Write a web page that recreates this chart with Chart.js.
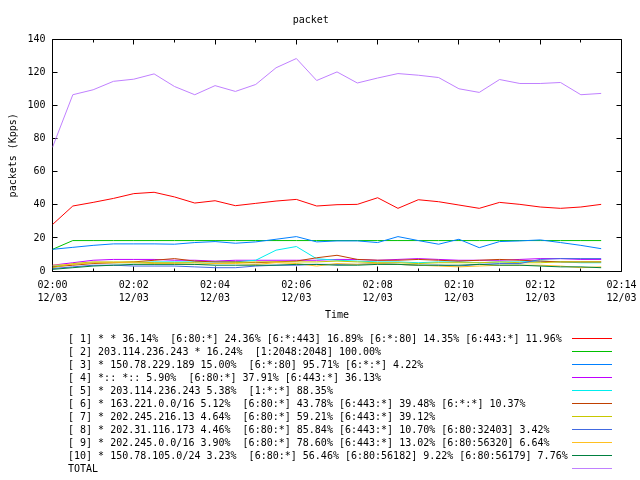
<!DOCTYPE html>
<html>
<head>
<meta charset="utf-8">
<script src="https://cdn.jsdelivr.net/npm/chart.js@4/dist/chart.umd.min.js"></script>
<style>
  html, body { margin: 0; padding: 0; background: #fff; }
  #wrap { position: relative; width: 640px; height: 480px; overflow: hidden; }
  #c { position: absolute; left: 0; top: 0; }
  #legend { position: absolute; left: 0; top: 0; width: 640px; height: 480px; pointer-events: none;
            font-family: 'DejaVu Sans Mono', 'Liberation Mono', monospace; font-size: 10px; color: #000; }
  .lg-text { position: absolute; left: 68px; white-space: pre; line-height: 13px; height: 13px; }
  .lg-line { position: absolute; left: 572px; width: 40px; height: 1px; }
</style>
</head>
<body>
<div id="wrap">
  <canvas id="c" width="640" height="480"></canvas>
  <div id="legend"></div>
</div>
<script>
// ---- data ----
const timeMinutes = [0, 0.5, 1, 1.5, 2, 2.5, 3, 3.5, 4, 4.5, 5, 5.5, 6, 6.5, 7, 7.5, 8, 8.5, 9, 9.5, 10, 10.5, 11, 11.5, 12, 12.5, 13, 13.5];
const tickTimes = ['02:00', '02:02', '02:04', '02:06', '02:08', '02:10', '02:12', '02:14'];
const tickDate = '12/03';

const series1 = [28.1, 39.3, 41.5, 43.9, 46.8, 47.6, 44.8, 41.1, 42.5, 39.5, 40.9, 42.3, 43.3, 39.3, 40.1, 40.3, 44.3, 37.9, 43.1, 41.9, 39.9, 37.9, 41.5, 40.3, 38.7, 37.9, 38.7, 40.3];
const series2 = [13.1, 18.4, 18.4, 18.4, 18.4, 18.4, 18.4, 18.4, 18.4, 18.4, 18.4, 18.4, 18.4, 18.4, 18.4, 18.4, 18.4, 18.4, 18.4, 18.4, 18.4, 18.4, 18.4, 18.4, 18.4, 18.4, 18.4, 18.4];
const series3 = [13.1, 14.3, 15.5, 16.4, 16.4, 16.4, 16.2, 17.2, 17.8, 16.8, 17.6, 19.2, 20.8, 17.6, 18.2, 18.2, 17.2, 20.8, 18.4, 16.2, 19.2, 14.1, 17.8, 18.2, 18.8, 17.2, 15.5, 13.5];
const series4 = [3.5, 5, 6.5, 7, 7, 7, 6.5, 6.5, 6, 6.5, 6.5, 6.5, 6.5, 6.5, 7, 7, 6.5, 7, 7.5, 7, 6.5, 6.5, 6.5, 7, 7.5, 7.5, 7, 7];
const series5 = [3, 4, 5, 5, 5, 5.5, 5.5, 5.5, 5.5, 5.5, 6.5, 12.6, 14.8, 7.4, 6.5, 6, 5.5, 5.5, 5, 5.5, 5.5, 5, 5.5, 5.5, 6, 5.5, 5, 5];
const series6 = [2.5, 3.5, 4.5, 5, 5.5, 6.5, 7.5, 6, 5.5, 5.5, 5, 5.5, 6, 8, 9.5, 7, 6.5, 6.5, 7, 6.5, 6, 6.5, 7, 6.5, 6, 5.5, 5.5, 5.5];
const series7 = [2, 4.5, 5.5, 5.5, 5.5, 5, 5, 5, 4.5, 5, 5.5, 5.5, 5.5, 5.5, 6, 5.5, 5, 5, 4.5, 5, 5, 5, 5.5, 5, 5, 5.5, 5.5, 5.5];
const series8 = [1.5, 2.5, 3.5, 3.5, 3, 3, 3, 2.5, 2, 2, 3, 3.5, 3.5, 4, 4, 4, 4.5, 4, 3.5, 3.5, 3, 4, 4.5, 4.5, 7, 7.5, 7.5, 7.5];
const series9 = [3.5, 4, 5, 5, 5, 4.5, 4.5, 4, 4.5, 4.5, 4, 5, 4.5, 3, 4.5, 4, 4.5, 4, 3.5, 3, 2.5, 3, 3.5, 3.5, 3.5, 3, 2, 2.5];
const series10 = [1, 2, 3, 3.5, 4, 4, 4, 4, 3.5, 3.5, 3.5, 3.5, 4, 4, 3.5, 3.5, 4, 4, 3.5, 3.5, 3.5, 4, 3.5, 3.5, 3, 2.5, 2.5, 2];
const seriesTotal = [74.8, 106.6, 109.6, 114.7, 116, 119.2, 111.6, 106.6, 112.1, 108.6, 112.8, 122.9, 128.5, 115.2, 120.4, 113.7, 116.7, 119.4, 118.4, 117, 110.2, 108, 115.8, 113.4, 113.4, 114, 106.6, 107.4];

const seriesLabels = [
  '[ 1] * * 36.14%  [6:80:*] 24.36% [6:*:443] 16.89% [6:*:80] 14.35% [6:443:*] 11.96%',
  '[ 2] 203.114.236.243 * 16.24%  [1:2048:2048] 100.00%',
  '[ 3] * 150.78.229.189 15.00%  [6:*:80] 95.71% [6:*:*] 4.22%',
  '[ 4] *:: *:: 5.90%  [6:80:*] 37.91% [6:443:*] 36.13%',
  '[ 5] * 203.114.236.243 5.38%  [1:*:*] 88.35%',
  '[ 6] * 163.221.0.0/16 5.12%  [6:80:*] 43.78% [6:443:*] 39.48% [6:*:*] 10.37%',
  '[ 7] * 202.245.216.13 4.64%  [6:80:*] 59.21% [6:443:*] 39.12%',
  '[ 8] * 202.31.116.173 4.46%  [6:80:*] 85.84% [6:443:*] 10.70% [6:80:32403] 3.42%',
  '[ 9] * 202.245.0.0/16 3.90%  [6:80:*] 78.60% [6:443:*] 13.02% [6:80:56320] 6.64%',
  '[10] * 150.78.105.0/24 3.23%  [6:80:*] 56.46% [6:80:56182] 9.22% [6:80:56179] 7.76%',
  'TOTAL'
];

// ---- styles ----
const COLORS = ['#ff0000', '#00c000', '#0080ff', '#c000ff', '#00eeee', '#c04000', '#c8c800', '#4169e1', '#ffc020', '#008040', '#c080ff'];
const FONT = "'DejaVu Sans Mono', 'Liberation Mono', monospace";

const allSeries = [series1, series2, series3, series4, series5, series6, series7, series8, series9, series10, seriesTotal];

const datasets = allSeries.map((vals, i) => ({
  label: seriesLabels[i],
  data: vals.map((v, j) => ({ x: timeMinutes[j], y: v })),
  borderColor: COLORS[i],
  backgroundColor: COLORS[i],
  borderWidth: 1,
  pointRadius: 0,
  tension: 0,
  fill: false,
  order: allSeries.length - i
}));

Chart.defaults.font.family = FONT;
Chart.defaults.font.size = 10;
Chart.defaults.color = '#000';

// frame + inward ticks like gnuplot
const framePlugin = {
  id: 'frame',
  beforeDatasetsDraw(chart) {
    const { ctx, chartArea: a, scales } = chart;
    const L = Math.round(a.left - 0.5) + 0.5, R = Math.round(a.right - 0.5) + 0.5;
    const T = Math.round(a.top - 0.5) + 0.5, B = Math.round(a.bottom - 0.5) + 0.5;
    ctx.save();
    ctx.strokeStyle = '#000';
    ctx.lineWidth = 1;
    ctx.beginPath();
    ctx.rect(L, T, R - L, B - T);
    for (let m = scales.x.min; m <= scales.x.max; m += 1) {
      const px = Math.round(scales.x.getPixelForValue(m) - 0.5) + 0.5;
      const len = (m % 2 === 0) ? 5 : 3;
      ctx.moveTo(px, B); ctx.lineTo(px, B - len);
      ctx.moveTo(px, T); ctx.lineTo(px, T + len);
    }
    for (let v = scales.y.min; v <= scales.y.max; v += 20) {
      const py = Math.round(scales.y.getPixelForValue(v) - 0.5) + 0.5;
      ctx.moveTo(L, py); ctx.lineTo(L + 5, py);
      ctx.moveTo(R, py); ctx.lineTo(R - 5, py);
    }
    ctx.stroke();
    ctx.restore();
  }
};

const chart = new Chart(document.getElementById('c'), {
  type: 'line',
  data: { datasets },
  options: {
    responsive: false,
    animation: false,
    devicePixelRatio: 1,
    layout: { padding: { left: 0, right: 18.5, top: 0, bottom: 153 } },
    plugins: {
      legend: { display: false },
      tooltip: { enabled: false },
      title: {
        display: true, text: 'packet', color: '#000',
        font: { family: FONT, size: 10, weight: 'normal', lineHeight: 1.2 },
        padding: { top: 14, bottom: 13.5 }
      }
    },
    scales: {
      x: {
        type: 'linear', min: 0, max: 14,
        grid: { display: false, drawTicks: false },
        border: { display: false },
        ticks: {
          stepSize: 2, autoSkip: false, maxRotation: 0, padding: 8, color: '#000',
          font: { family: FONT, size: 10, lineHeight: 1.3 },
          callback: (v) => (v % 2 === 0 ? [tickTimes[v / 2], tickDate] : '')
        },
        title: { display: true, text: 'Time', color: '#000', font: { family: FONT, size: 10, lineHeight: 1.2 }, padding: { top: 8, bottom: 5.5 } },
        afterFit(scale) { scale.height = 56; scale.paddingLeft = 0; scale.paddingRight = 0; }
      },
      y: {
        min: 0, max: 140,
        grid: { display: false, drawTicks: false },
        border: { display: false },
        ticks: { stepSize: 20, padding: 7, color: '#000', font: { family: FONT, size: 10, lineHeight: 1.2 } },
        title: { display: true, text: 'packets (Kpps)', color: '#000', font: { family: FONT, size: 10, lineHeight: 1.2 }, padding: { top: 7, bottom: 0 } },
        afterFit(scale) { scale.width = 52.5; scale.paddingTop = 0; scale.paddingBottom = 0; }
      }
    }
  },
  plugins: [framePlugin]
});

// HTML legend built from the chart's datasets (text left, sample line right)
(function buildLegend() {
  const lg = document.getElementById('legend');
  chart.data.datasets.forEach((ds, k) => {
    const cy = 338.5 + 13 * k;
    const t = document.createElement('div');
    t.className = 'lg-text';
    t.style.top = (cy - 6.5) + 'px';
    t.textContent = ds.label;
    lg.appendChild(t);
    const l = document.createElement('div');
    l.className = 'lg-line';
    l.style.top = Math.floor(cy) + 'px';
    l.style.background = ds.borderColor;
    lg.appendChild(l);
  });
})();
</script>
</body>
</html>
